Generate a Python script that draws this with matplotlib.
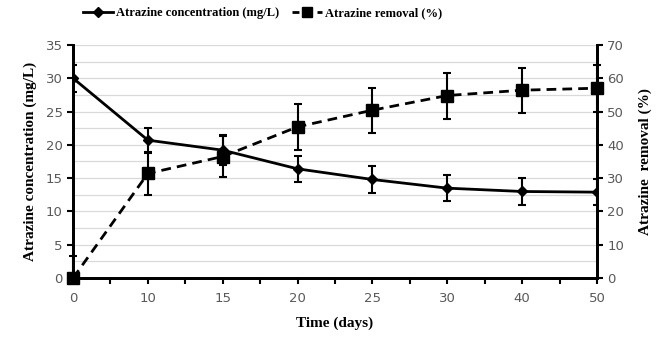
import numpy as np
import matplotlib.pyplot as plt
from matplotlib.lines import Line2D

days = ["0", "10", "15", "20", "25", "30", "40", "50"]
conc = [30.0, 20.7, 19.2, 16.4, 14.8, 13.5, 13.0, 12.9]
conc_err = [2.0, 1.9, 2.3, 2.0, 2.0, 2.0, 2.0, 2.0]
removal = [0.0, 31.4, 36.5, 45.4, 50.4, 54.8, 56.4, 57.0]
removal_err = [6.6, 6.4, 6.3, 6.8, 6.7, 6.9, 6.7, 7.0]

serif = "Liberation Serif"
tick_col = "#595959"
dash = (0, (3.5, 2.2))

fig = plt.figure(figsize=(6.64, 3.40), dpi=100)
ax = fig.add_axes([0.110, 0.182, 0.789, 0.686])
ax2 = ax.twinx()

x = np.arange(len(days))

# grid every 2.5 mg/L
for g in np.arange(2.5, 35.01, 2.5):
    ax.axhline(g, color="#d9d9d9", lw=0.9, zorder=0)

ax.errorbar(x, conc, yerr=conc_err, color="black", lw=2, marker="D",
            ms=5, capsize=3, elinewidth=1.5, capthick=1.5, zorder=3)

rem_low = [min(e, v) for v, e in zip(removal, removal_err)]
ax2.errorbar(x, removal, yerr=[rem_low, removal_err], color="black", lw=2,
             ls=dash, marker="s", ms=8, capsize=3, elinewidth=1.5,
             capthick=1.5, zorder=3, clip_on=False)

ax.set_xlim(0, len(days) - 1)
ax.set_ylim(0, 35)
ax2.set_ylim(0, 70)
ax.set_xticks(x)
ax.set_xticklabels(days)
ax.set_xticks(np.arange(0.5, len(days) - 1, 1), minor=True)
ax.set_yticks(np.arange(0, 36, 5))
ax2.set_yticks(np.arange(0, 71, 10))

for a in (ax, ax2):
    for s in a.spines.values():
        s.set_linewidth(2)
    a.spines["top"].set_visible(False)
    a.tick_params(axis="both", which="both", colors="black", labelcolor=tick_col,
                  labelsize=9.5, width=1.5, length=4, direction="out")
ax.tick_params(axis="x", pad=6)

ax.set_xlabel("Time (days)", fontfamily=serif, fontweight="bold", fontsize=11, labelpad=8)
ax.set_ylabel("Atrazine concentration (mg/L)", fontfamily=serif, fontweight="bold", fontsize=11, labelpad=6)
ax2.set_ylabel("Atrazine  removal (%)", fontfamily=serif, fontweight="bold", fontsize=11, labelpad=10)

# two single-entry legends so both labels share a baseline
h1 = Line2D([], [], color="black", lw=2, marker="D", ms=5)
h2 = Line2D([], [], color="black", lw=2, ls=(0, (2.5, 2)), marker="s", ms=7)
legprops = dict(loc="center left", frameon=False, handlelength=2.4,
                handletextpad=0.2, borderpad=0, borderaxespad=0,
                prop={"family": serif, "weight": "bold", "size": 9})
leg1 = fig.legend([h1], ["Atrazine concentration (mg/L)"],
                  bbox_to_anchor=(0.125, 0.962), **legprops)
leg2 = fig.legend([h2], ["Atrazine removal (%)"],
                  bbox_to_anchor=(0.44, 0.962), **legprops)

fig.savefig("out.png", dpi=100)
